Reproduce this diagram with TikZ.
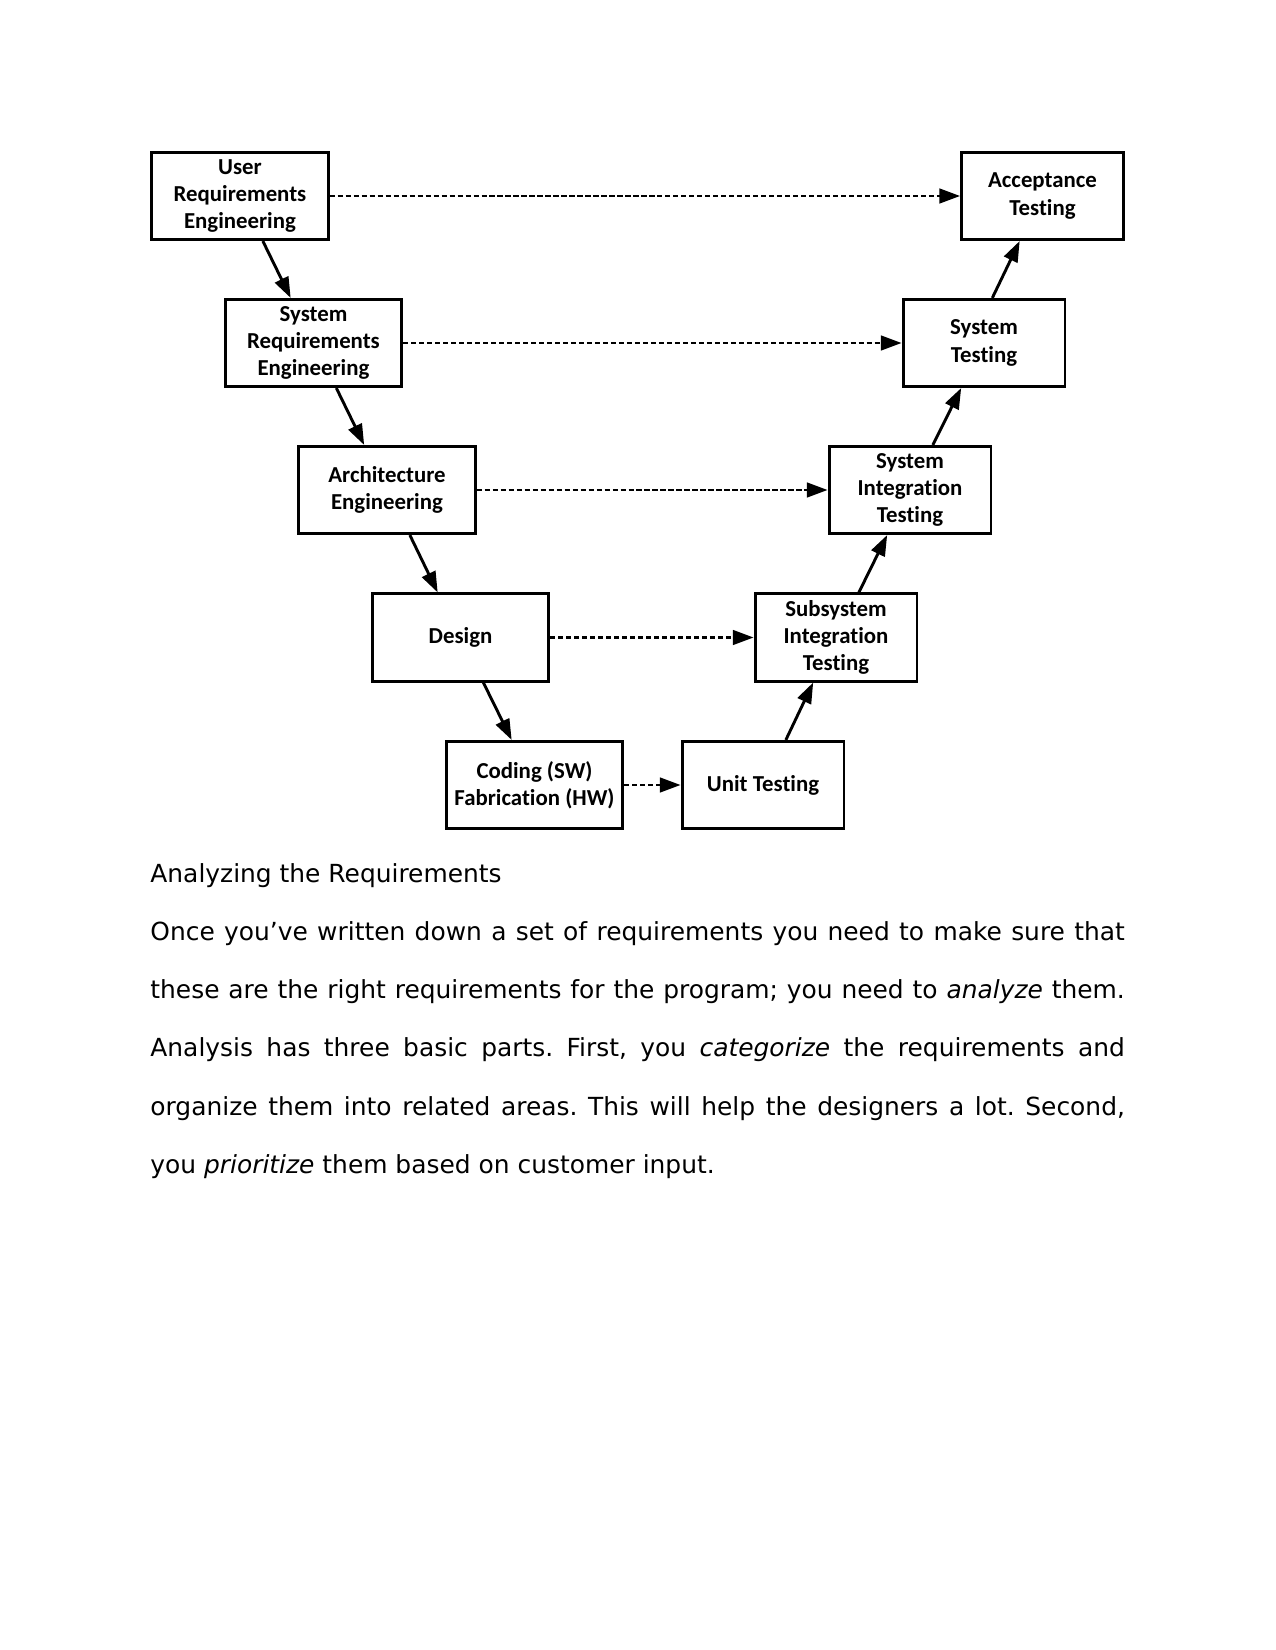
\documentclass[tikz,border=0pt]{standalone}
\usepackage{fontspec}
\setmainfont{DejaVu Sans}
\newfontfamily\boxfont{Carlito}[Ligatures=NoCommon]
\usetikzlibrary{arrows.meta}
\frenchspacing

\tikzset{
    stage/.style={draw, line width=1.4pt, minimum width=85pt, minimum height=42pt,
        inner sep=0pt, align=center, font=\boxfont\bfseries\fontsize{11}{13.2}\selectfont},
    check/.style={stage, minimum width=78pt},
    flow/.style={-{Triangle[length=10pt,width=7pt]}, line width=1.4pt},
    trace/.style={flow, dash pattern=on 2.5pt off 1.35pt}
}

\begin{document}
\begin{tikzpicture}[x=0.4818pt, y=-0.4818pt]
    \useasboundingbox (0,0) rectangle (1275,1650);
    % Left leg
    \node[stage] (ureq) at (240,196) {User\\Requirements\\Engineering};
    \node[stage] (sreq) at (313.5,343) {System\\Requirements\\Engineering};
    \node[stage] (arch) at (387,490) {Architecture\\Engineering};
    \node[stage] (design) at (460.5,637.5) {Design};
    \node[stage] (coding) at (534.5,785) {Coding (SW)\\Fabrication (HW)};

    % Right leg
    \node[check] (unit) at (763,785) {Unit Testing};
    \node[check] (subsys) at (836,637.5) {Subsystem\\Integration\\Testing};
    \node[check] (sysint) at (910,490) {System\\Integration\\Testing};
    \node[check] (systest) at (984,343) {System\\Testing};
    \node[check] (accept) at (1042.5,196) {Acceptance\\Testing};

    % Down the V
    \draw[flow] ([xshift=11pt]ureq.south) -- ([xshift=-11pt]sreq.north);
    \draw[flow] ([xshift=11pt]sreq.south) -- ([xshift=-11pt]arch.north);
    \draw[flow] ([xshift=11pt]arch.south) -- ([xshift=-11pt]design.north);
    \draw[flow] ([xshift=11pt]design.south) -- ([xshift=-11pt]coding.north);

    % Up the V
    \draw[flow] ([xshift=11pt]unit.north) -- ([xshift=-11pt]subsys.south);
    \draw[flow] ([xshift=11pt]subsys.north) -- ([xshift=-11pt]sysint.south);
    \draw[flow] ([xshift=11pt]sysint.north) -- ([xshift=-11pt]systest.south);
    \draw[flow] ([xshift=4pt]systest.north) -- ([xshift=-11pt]accept.south);

    % Verification links
    \draw[trace] (ureq) -- (accept);
    \draw[trace] (sreq) -- (systest);
    \draw[trace] (arch) -- (sysint);
    \draw[trace] (design) -- (subsys);
    \draw[trace] (coding) -- (unit);

    % Text below
    \node[anchor=base west, inner sep=0pt, font=\fontsize{12}{14}\selectfont] (head)
    at (150,882) {Analyzing the Requirements};
    \node[anchor=north west, inner sep=0pt, text width=469.5pt, align=justify,
    font=\fontsize{12}{28.1}\selectfont] (body) at (150,921) {Once you’ve written
    down a set of requirements you need to make sure that\linebreak these are the
    right requirements for the program; you need to \textit{analyze}
    them.\linebreak Analysis has three basic parts. First, you \textit{categorize}
    the requirements and\linebreak organize them into related areas. This will
    help the designers a lot. Second,\linebreak you \textit{prioritize} them based
    on customer input.};
\end{tikzpicture}
\end{document}
